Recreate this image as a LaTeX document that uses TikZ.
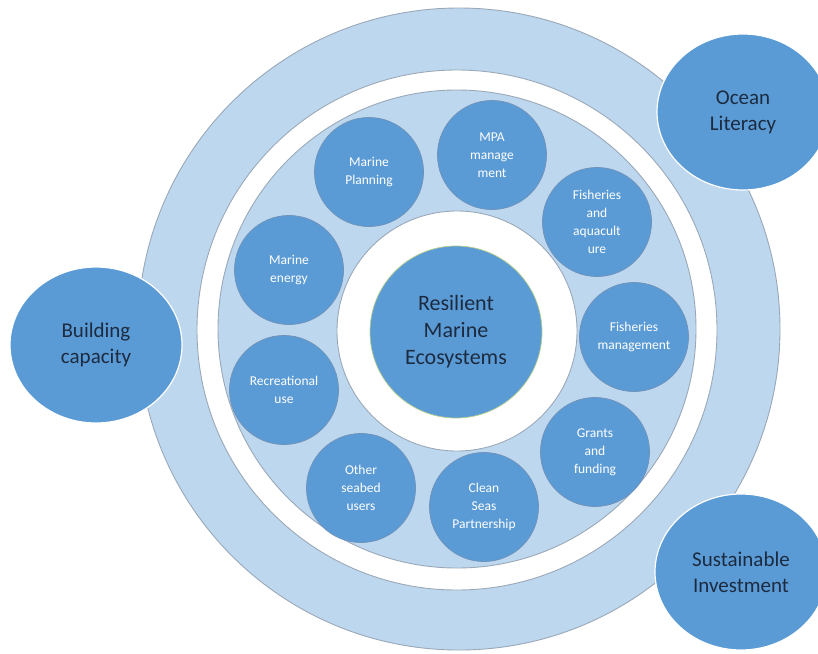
\documentclass[tikz,border=0pt]{standalone}
\usepackage{fontspec}
\setmainfont{Carlito}
\usetikzlibrary{shapes.geometric}
\definecolor{lightring}{HTML}{BDD7EE}
\definecolor{mainblue}{HTML}{5B9BD5}
\definecolor{ringline}{HTML}{9AA8B8}
\definecolor{topicline}{HTML}{6F93BA}
\definecolor{navy}{HTML}{1C2B40}
\definecolor{corerim}{HTML}{B4CC8C}
\begin{document}
\begin{tikzpicture}[x=1pt,y=-1pt,
  ring/.style={circle, draw=ringline, line width=0.9pt, inner sep=0pt},
  topic/.style={circle, fill=mainblue, draw=topicline, line width=0.8pt,
    minimum size=109pt, inner sep=0pt, align=center, text=white,
    font=\fontsize{13.5}{18}\selectfont},
  pillar/.style={ellipse, fill=mainblue, draw=white, line width=1.2pt,
    minimum width=172pt, minimum height=156pt, inner sep=0pt, align=center,
    text=navy, font=\fontsize{21}{26}\selectfont},
  core/.style={circle, fill=mainblue, draw=corerim, line width=0.7pt,
    minimum size=172pt, inner sep=0pt, align=center, text=navy,
    font=\fontsize{22}{27}\selectfont}]
\useasboundingbox (0,0) rectangle (818,653);
\fill[white] (0,0) rectangle (818,653);
% rings
\node[ring, fill=lightring, minimum size=642pt] (outer) at (459,329) {};
\node[ring, fill=white, minimum size=520pt] (gap) at (457,330) {};
\node[ring, fill=lightring, minimum size=478pt] (inner) at (457,329) {};
\node[ring, fill=white, minimum size=240pt] (hole) at (457,331) {};
\node[core] (center) at (456,332) {Resilient\\Marine\\Ecosystems};
% topics
\node[topic] (planning) at (369,172) {Marine\\Planning};
\node[topic] (mpa) at (492,155) {MPA\\manage\\ment};
\node[topic] (aqua) at (597,222) {Fisheries\\and\\aquacult\\ure};
\node[topic] (fishmgmt) at (634,337) {Fisheries\\management};
\node[topic] (grants) at (595,452) {Grants\\and\\funding};
\node[topic] (clean) at (484,507) {Clean\\Seas\\Partnership};
\node[topic] (seabed) at (361,488) {Other\\seabed\\users};
\node[topic] (recre) at (284,390) {Recreational\\use};
\node[topic] (energy) at (289,270) {Marine\\energy};
% pillars
\node[pillar] (capacity) at (96,345) {Building\\capacity};
\node[pillar] (literacy) at (743,112) {Ocean\\Literacy};
\node[pillar] (invest) at (741,572) {Sustainable\\Investment};
\end{tikzpicture}
\end{document}
